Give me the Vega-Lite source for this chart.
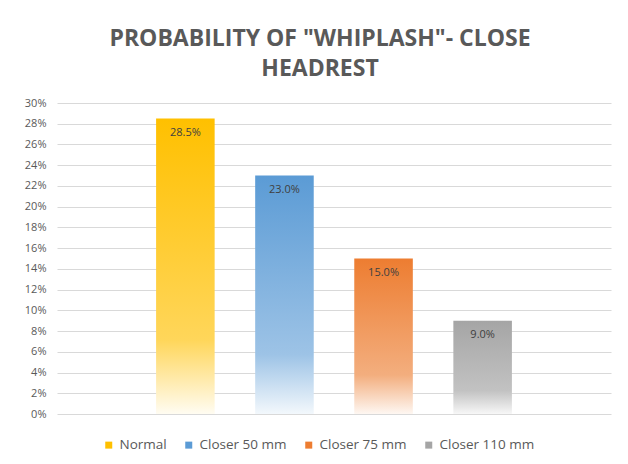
{
  "$schema": "https://vega.github.io/schema/vega-lite/v6.json",
  "width": 554,
  "height": 311,
  "autosize": {"type": "none"},
  "padding": {"left": 57, "top": 103, "right": 17, "bottom": 50},
  "background": "white",
  "title": {
    "text": ["PROBABILITY OF \"WHIPLASH\"- CLOSE", "HEADREST"],
    "font": "Open Sans",
    "fontSize": 23,
    "fontWeight": "bold",
    "color": "#595959",
    "lineHeight": 30,
    "anchor": "middle",
    "offset": 16,
    "dx": -14
  },
  "data": {
    "values": [
      {"series": "Normal", "value": 0.285},
      {"series": "Closer 50 mm", "value": 0.23},
      {"series": "Closer 75 mm", "value": 0.15},
      {"series": "Closer 110 mm", "value": 0.09}
    ]
  },
  "config": {
    "view": {"stroke": null},
    "font": "Open Sans"
  },
  "encoding": {
    "x": {
      "field": "series",
      "type": "nominal",
      "sort": null,
      "scale": {"paddingInner": 0.409, "paddingOuter": 1.052, "round": false},
      "axis": null
    },
    "y": {
      "field": "value",
      "type": "quantitative",
      "scale": {"domain": [0, 0.3]},
      "axis": {
        "format": ".0%",
        "values": [0, 0.02, 0.04, 0.06, 0.08, 0.1, 0.12, 0.14, 0.16, 0.18, 0.2, 0.22, 0.24, 0.26, 0.28, 0.3],
        "title": null,
        "domain": false,
        "ticks": false,
        "labelPadding": 11,
        "labelFont": "Open Sans",
        "labelFontSize": 11,
        "labelColor": "#595959",
        "gridColor": "#D9D9D9",
        "gridWidth": 1
      }
    }
  },
  "layer": [
    {
      "mark": {"type": "bar", "opacity": 0},
      "encoding": {
        "color": {
          "field": "series",
          "type": "nominal",
          "sort": null,
          "scale": {
            "domain": ["Normal", "Closer 50 mm", "Closer 75 mm", "Closer 110 mm"],
            "range": ["#FFC000", "#5B9BD5", "#ED7D31", "#A5A5A5"]
          },
          "legend": {
            "title": null,
            "orient": "none",
            "direction": "horizontal",
            "legendX": 45,
            "legendY": 335,
            "symbolType": "square",
            "symbolSize": 49,
            "symbolOpacity": 1,
            "symbolStrokeWidth": 0,
            "labelFont": "Open Sans",
            "labelFontSize": 13.5,
            "labelColor": "#595959",
            "labelOffset": 4,
            "columnPadding": 15
          }
        }
      }
    },
    {
      "mark": {"type": "bar"},
      "encoding": {
        "fill": {
          "condition": [
            {"test": "datum.series === 'Normal'", "value": {"gradient": "linear", "x1": 0, "y1": 0, "x2": 0, "y2": 1, "stops": [{"offset": 0, "color": "#FFC000"}, {"offset": 0.75, "color": "#FFD65A"}, {"offset": 1, "color": "#FFFCF2"}]}},
            {"test": "datum.series === 'Closer 50 mm'", "value": {"gradient": "linear", "x1": 0, "y1": 0, "x2": 0, "y2": 1, "stops": [{"offset": 0, "color": "#5B9BD5"}, {"offset": 0.75, "color": "#9DC3E6"}, {"offset": 1, "color": "#F3F8FC"}]}},
            {"test": "datum.series === 'Closer 75 mm'", "value": {"gradient": "linear", "x1": 0, "y1": 0, "x2": 0, "y2": 1, "stops": [{"offset": 0, "color": "#ED7D31"}, {"offset": 0.75, "color": "#F3AE7E"}, {"offset": 1, "color": "#FEF7F2"}]}}
          ],
          "value": {"gradient": "linear", "x1": 0, "y1": 0, "x2": 0, "y2": 1, "stops": [{"offset": 0, "color": "#A5A5A5"}, {"offset": 0.75, "color": "#C2C2C2"}, {"offset": 1, "color": "#F7F7F7"}]}
        }
      }
    },
    {
      "mark": {"type": "text", "baseline": "middle", "dy": 14, "font": "Open Sans", "fontSize": 11, "color": "#404040"},
      "encoding": {
        "text": {"field": "value", "type": "quantitative", "format": ".1%"}
      }
    }
  ]
}
